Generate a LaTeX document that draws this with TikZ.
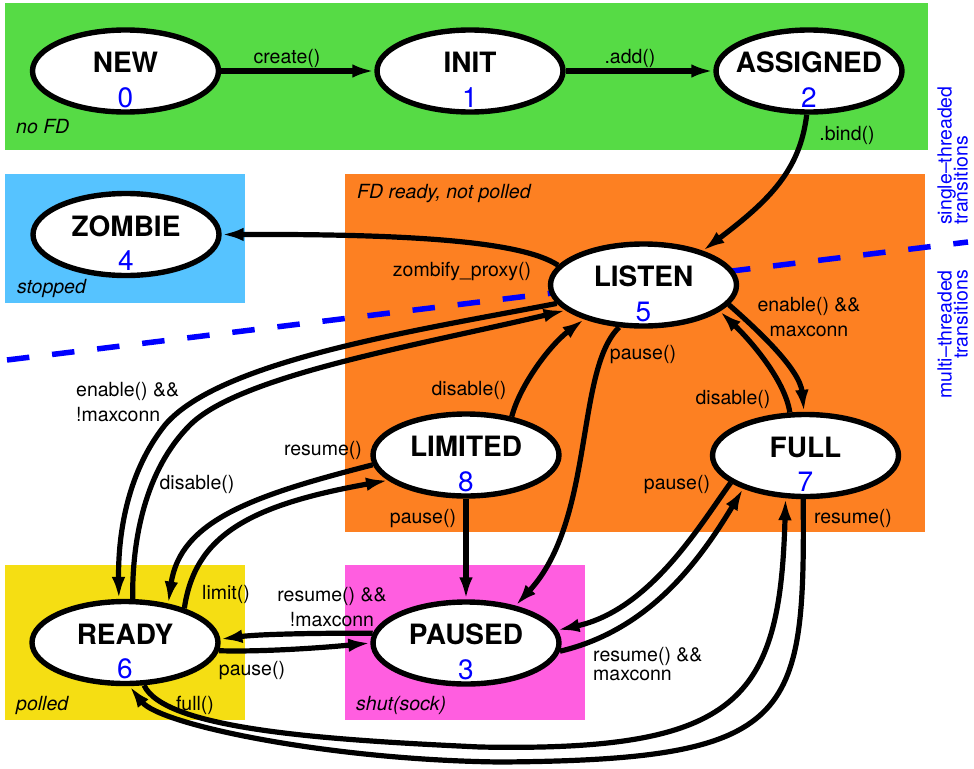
\documentclass[tikz,border=0pt]{standalone}
\usepackage{fontspec}
\setmainfont{TeX Gyre Heros}
\usetikzlibrary{shapes.geometric,arrows.meta,calc}
\definecolor{cgreen}{RGB}{86,219,69}
\definecolor{corange}{RGB}{253,128,34}
\definecolor{ccyan}{RGB}{86,195,255}
\definecolor{cyellow}{RGB}{245,222,19}
\definecolor{cmagenta}{RGB}{255,94,224}
\newcommand\tightls{\lineskiplimit-30pt\relax}
\tikzset{
  st/.style={ellipse, draw=black, line width=5.4pt, fill=white, minimum width=186pt, minimum height=82pt, inner sep=0pt},
  nm/.style={font=\fontsize{28}{30}\selectfont\bfseries, anchor=base, inner sep=0pt},
  num/.style={font=\fontsize{28}{30}\selectfont, text=blue, anchor=base, inner sep=0pt},
  tr/.style={line width=5.2pt, -{Latex[length=22pt,width=13.5pt]}},
  lbl/.style={font=\fontsize{19.5}{25}\selectfont, inner sep=0pt},
  zone/.style={font=\fontsize{19.5}{23}\selectfont\itshape, inner sep=0pt, anchor=west},
  sidetxt/.style={font={\fontsize{19.5}{16}\selectfont\tightls}, text=blue, inner sep=0pt, rotate=90},
}
\newcommand\mkstate[5]{%
  \node[st] (#1) at (#2,#3) {};
  \node[nm] (#1-t) at ($(#1.center)+(0,1.5)$) {#4};
  \node[num] (#1-n) at ($(#1.center)+(0,36)$) {#5};}
\begin{document}
\begin{tikzpicture}[x=1pt,y=-1pt]
\useasboundingbox (0,0) rectangle (974,768);
% zones
\fill[cgreen] (5,3) rectangle (928,150);
\fill[ccyan] (5,174) rectangle (245,303);
\fill[corange] (345,174) rectangle (925,532);
\fill[cyellow] (5,565) rectangle (245,720);
\fill[cmagenta] (345,565) rectangle (585,720);
\node[zone] (z1) at (16,127) {no FD};
\node[zone] (z2) at (17,288) {stopped};
\node[zone] (z3) at (357,194) {FD ready, not polled};
\node[zone] (z4) at (16,705) {polled};
\node[zone] (z5) at (356,705) {shut(sock)};
% divider
\coordinate (dashA) at (7,360);
\coordinate (dashB) at (968,242);
\draw[blue, line width=5.5pt, dash pattern=on 22.5pt off 22.9pt] (dashA) -- (dashB);
\node[sidetxt, align=left, anchor=south west] (single) at (968,225) {single--threaded\\transitions};
\node[sidetxt, align=right, anchor=south east] (multi) at (968,270) {multi--threaded\\transitions};
% states
\mkstate{new}{125.5}{71}{NEW}{0}
\mkstate{init}{470}{71}{INIT}{1}
\mkstate{assigned}{809}{71}{ASSIGNED}{2}
\mkstate{zombie}{126}{234.5}{ZOMBIE}{4}
\mkstate{listen}{643.5}{285}{LISTEN}{5}
\mkstate{limited}{466}{455}{LIMITED}{8}
\mkstate{full}{805.5}{455.5}{FULL}{7}
\mkstate{ready}{125}{642.5}{READY}{6}
\mkstate{paused}{466}{643}{PAUSED}{3}
% transitions
\draw[tr] (new.east) -- (init.west);
\draw[tr] (init.east) -- (assigned.west);
\draw[tr] (assigned.-93) .. controls (800,170) and (770,200) .. (listen.30);
\draw[tr] (listen.167) .. controls (520,240) and (400,234) .. (zombie.east);
\draw[tr] (listen.-13) .. controls (760,332) and (800,370) .. (full.92);
\draw[tr] (full.110) .. controls (785,380) and (750,340) .. (listen.-19);
\draw[tr] (limited.40) .. controls (520,385) and (550,345) .. (listen.210);
\draw[tr] (listen.240) .. controls (575,370) and (595,520) .. (paused.37);
\draw[tr] (listen.192) .. controls (420,330) and (220,360) .. (165,425) .. controls (125,475) and (118,540) .. (ready.98);
\draw[tr] (ready.80) .. controls (132,540) and (145,470) .. (190,425) .. controls (240,375) and (420,345) .. (listen.198);
\draw[tr] (limited.186) .. controls (255,495) and (180,520) .. (ready.42);
\draw[tr] (ready.30) .. controls (195,535) and (250,505) .. (limited.198);
\draw[tr] (limited.south) -- (paused.north);
\draw[tr] (paused.174) .. controls (320,633) and (260,634) .. (ready.2);
\draw[tr] (ready.-5) .. controls (260,652) and (320,648) .. (paused.180);
\draw[tr] (full.200) .. controls (700,525) and (650,610) .. (paused.8);
\draw[tr] (paused.-5) .. controls (650,630) and (700,560) .. (full.208);
\draw[tr] (full.-93) .. controls (805,720) and (795,760) .. (500,762) .. controls (330,760) and (160,725) .. (ready.-84);
\draw[tr] (ready.-66) .. controls (165,730) and (330,740) .. (480,747) .. controls (740,752) and (780,700) .. (full.245);
% labels
\node[lbl] (l1) at (287,58) {create()};
\node[lbl] (l2) at (630,58) {.add()};
\node[lbl] (l3) at (847,135) {.bind()};
\node[lbl] (l4) at (462,271) {zombify\_proxy()};
\node[lbl] (l5) at (469,390) {disable()};
\node[lbl] (l6) at (643,355) {pause()};
\node[lbl, align=center] (l7) at (809,317.5) {enable() \&\&\\maxconn};
\node[lbl] (l8) at (733,399) {disable()};
\node[lbl, align=left, anchor=west] (l9) at (76,402.5) {enable() \&\&\\!maxconn};
\node[lbl] (l10) at (197,484) {disable()};
\node[lbl] (l11) at (323,450) {resume()};
\node[lbl] (l12) at (226,594) {limit()};
\node[lbl] (l13) at (423,519) {pause()};
\node[lbl, align=center] (l14) at (332,607) {resume() \&\&\\!maxconn};
\node[lbl] (l15) at (252,671) {pause()};
\node[lbl] (l16) at (195,705) {full()};
\node[lbl] (l17) at (677,485) {pause()};
\node[lbl, align=left, anchor=west, font={\fontsize{19.5}{18.5}\selectfont\tightls}] (l18) at (593,664) {resume() \&\&\\maxconn};
\node[lbl] (l19) at (853,518) {resume()};
\end{tikzpicture}
\end{document}
